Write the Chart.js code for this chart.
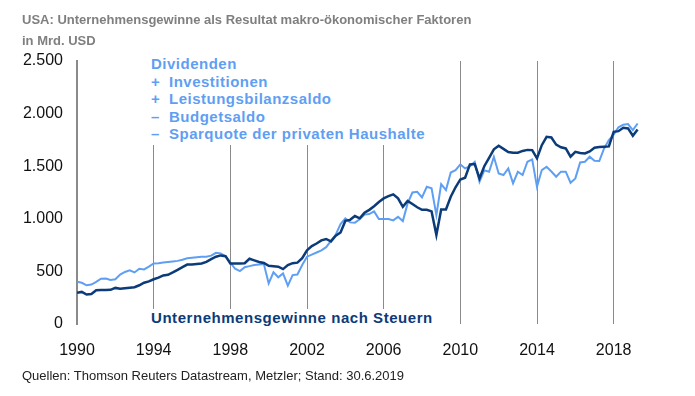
<!DOCTYPE html>
<html>
<head>
<meta charset="utf-8">
<script src="https://cdn.jsdelivr.net/npm/chart.js@4/dist/chart.umd.min.js"></script>
<style>
  html, body { margin: 0; padding: 0; background: #fff; }
  #wrap { position: relative; width: 695px; height: 396px; font-family: "Liberation Sans", Arial, sans-serif; }
  #c { position: absolute; left: 0; top: 0; }
  .title { position: absolute; left: 22px; color: #7f7f7f; font-weight: bold; font-size: 13px; line-height: 21px; white-space: nowrap; }
  #legendBox { position: absolute; left: 146px; top: 55px; width: 285px; padding-left: 5px; background: #fff; color: #5f9ff3; font-weight: bold; font-size: 15px; letter-spacing: 0.5px; line-height: 17.6px; white-space: nowrap; padding-bottom: 2px; }
  #legendBox .op { display: inline-block; width: 18px; }
  #bottomLabel { position: absolute; left: 146px; top: 309px; padding: 0 4px 0 5px; background: #fff; color: #0b3b78; font-weight: bold; font-size: 15px; letter-spacing: 0.55px; line-height: 18px; white-space: nowrap; }
  #footer { position: absolute; left: 22px; top: 367px; color: #222; font-size: 13px; line-height: 17px; white-space: nowrap; }
</style>
</head>
<body>
<div id="wrap">
  <canvas id="c" width="695" height="396"></canvas>
  <div class="title" style="top:9px">USA: Unternehmensgewinne als Resultat makro-ökonomischer Faktoren</div>
  <div class="title" style="top:30px">in Mrd. USD</div>
  <div id="legendBox"></div>
  <div id="bottomLabel"></div>
  <div id="footer"></div>
</div>
<script>
// ---- Data (quarterly, 1990 Q1 to 2019 Q2), bn USD ----
const startYear = 1990;
const tickYears = [1990, 1994, 1998, 2002, 2006, 2010, 2014, 2018];
const yTicks = [0, 500, 1000, 1500, 2000, 2500];

const profitsLabel = "Unternehmensgewinne nach Steuern";
const factorsLines = [
  ["", "Dividenden"],
  ["+", "Investitionen"],
  ["+", "Leistungsbilanzsaldo"],
  ["–", "Budgetsaldo"],
  ["–", "Sparquote der privaten Haushalte"]
];
const footerText = "Quellen: Thomson Reuters Datastream, Metzler; Stand: 30.6.2019";

const profits = [
  297, 305, 280, 285,   320, 323, 323, 325,   343, 335, 340, 345,   350, 368, 392, 405,
  425, 440, 462, 468,   490, 515, 540, 565,   565, 570, 575, 590,   617, 640, 652, 645,
  576, 576, 576, 578,   620, 605, 590, 580,   554, 550, 545, 522,   560, 578, 583, 625,
  700, 740, 765, 795,   808, 785, 840, 870,   980, 990, 1026, 1005, 1057, 1085, 1120, 1160,
  1194, 1215, 1232, 1194, 1114, 1170, 1140, 1110, 1085, 1085, 1070, 846, 1089, 1089, 1210, 1300,
  1374, 1390, 1517, 1520, 1384, 1500, 1580, 1660, 1694, 1665, 1635, 1628, 1628, 1645, 1655, 1653,
  1574, 1700, 1779, 1773, 1705, 1680, 1669, 1590, 1637, 1625, 1621, 1640, 1675, 1682, 1685, 1688,
  1827, 1833, 1865, 1859, 1789, 1849
];

const factors = [
  402, 392, 368, 375,   400, 430, 432, 418,   425, 470, 495, 510,   490, 525, 519, 545,
  576, 578, 584, 590,   595, 600, 610, 624,   630, 635, 640, 640,   650, 677, 671, 645,
  583, 525, 503, 540,   550, 560, 565, 570,   386, 491, 444, 481,   364, 465, 470, 560,
  640, 660, 680, 700,   730, 790, 850, 950,   1004, 966, 963, 995,  1040, 1045, 1070, 997,
  997, 997, 985, 1019,  978, 1146, 1250, 1257, 1203, 1304, 1290, 1035, 1330, 1273, 1440, 1463,
  1517, 1479, 1500, 1542, 1352, 1460, 1447, 1589, 1431, 1416, 1479, 1337, 1447, 1416, 1542, 1564,
  1304, 1463, 1495, 1450, 1400, 1448, 1448, 1343, 1384, 1536, 1542, 1590, 1552, 1549, 1669, 1748,
  1800, 1870, 1895, 1900, 1843, 1906
];

// quarter positions on the time axis
const quarterPos = profits.map((_, i) => startYear + i / 4);

// ---- overlay texts ----
document.getElementById('legendBox').innerHTML = factorsLines
  .map(l => l[0] ? '<div><span class="op">' + l[0] + '</span>' + l[1] + '</div>' : '<div>' + l[1] + '</div>')
  .join('');
document.getElementById('bottomLabel').textContent = profitsLabel;
document.getElementById('footer').textContent = footerText;

const fmtDE = v => String(v).replace(/\B(?=(\d{3})+(?!\d))/g, '.');

const PAD_L = 0, PAD_T = 61, PAD_R = 43, PAD_B = 0;
const AREA_LEFT = 77, AREA_BOTTOM = 324;

new Chart(document.getElementById('c'), {
  type: 'line',
  data: {
    datasets: [
      {
        label: profitsLabel,
        data: quarterPos.map((x, i) => ({ x, y: profits[i] })),
        borderColor: '#0b3b78',
        borderWidth: 2.5,
        pointRadius: 0,
        tension: 0,
        order: 1
      },
      {
        label: 'Dividenden + Investitionen + Leistungsbilanzsaldo – Budgetsaldo – Sparquote',
        data: quarterPos.map((x, i) => ({ x, y: factors[i] })),
        borderColor: '#5f9ff3',
        borderWidth: 2,
        pointRadius: 0,
        tension: 0,
        order: 2
      }
    ]
  },
  options: {
    responsive: false,
    animation: false,
    layout: { padding: { left: PAD_L, top: PAD_T, right: PAD_R, bottom: PAD_B } },
    plugins: { legend: { display: false }, tooltip: { enabled: false }, title: { display: false } },
    scales: {
      x: {
        type: 'linear',
        min: 1990,
        max: 2020,
        afterBuildTicks: s => { s.ticks = tickYears.map(v => ({ value: v })); },
        afterFit: s => { s.height = 396 - AREA_BOTTOM - PAD_B; },
        grid: { display: true, color: '#8a8a8a', lineWidth: 1, drawTicks: false },
        border: { display: false },
        ticks: {
          padding: 17,
          color: '#111',
          font: { family: '"Liberation Sans", Arial, sans-serif', size: 16 },
          callback: v => String(v),
          maxRotation: 0,
          autoSkip: false
        }
      },
      y: {
        min: 0,
        max: 2500,
        afterBuildTicks: s => { s.ticks = yTicks.map(v => ({ value: v })); },
        afterFit: s => { s.width = AREA_LEFT - PAD_L; },
        grid: { display: false, drawTicks: false },
        border: { display: true, color: '#8a8a8a', width: 2 },
        ticks: {
          padding: 14,
          color: '#111',
          font: { family: '"Liberation Sans", Arial, sans-serif', size: 16 },
          callback: v => fmtDE(v)
        }
      }
    }
  }
});
</script>
</body>
</html>
